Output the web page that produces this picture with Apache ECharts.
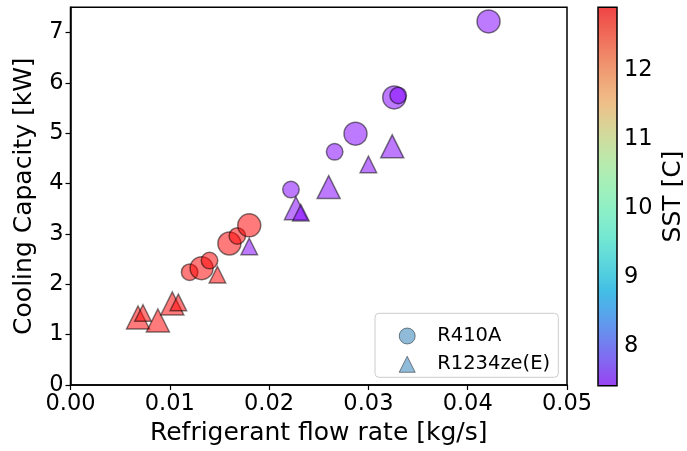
<!DOCTYPE html>
<html>
<head>
<meta charset="utf-8">
<script src="https://cdn.jsdelivr.net/npm/echarts@6/dist/echarts.min.js"></script>
<style>
  html, body { margin: 0; padding: 0; background: #fff; }
  #chart { width: 687px; height: 451px; }
</style>
</head>
<body>
<div id="chart"></div>
<script>
// Refrigerant flow rate [kg/s], cooling capacity [kW], saturated suction temperature [C]
const r410aFlow = [0.0120, 0.0132, 0.0140, 0.0160, 0.0168, 0.0180, 0.0222, 0.0266, 0.0287, 0.0326, 0.0330, 0.0421];
const r410aCapacity = [2.24, 2.32, 2.47, 2.81, 2.96, 3.17, 3.88, 4.63, 4.99, 5.71, 5.75, 7.22];
const r410aSST = [12.91, 12.91, 12.91, 12.91, 12.91, 12.91, 7.43, 7.43, 7.43, 7.43, 7.43, 7.43];
const r410aMarker = ['small', 'big', 'small', 'big', 'small', 'big', 'small', 'small', 'big', 'big', 'small', 'big'];

const r1234zeFlow = [0.0068, 0.0073, 0.0088, 0.01025, 0.01086, 0.0148, 0.0180, 0.0227, 0.0232, 0.0260, 0.0300, 0.0324];
const r1234zeCapacity = [1.34, 1.43, 1.28, 1.62, 1.64, 2.19, 2.75, 3.51, 3.42, 3.93, 4.38, 4.74];
const r1234zeSST = [12.91, 12.91, 12.91, 12.91, 12.91, 12.91, 7.43, 7.43, 7.43, 7.43, 7.43, 7.43];
const r1234zeMarker = ['big', 'small', 'big', 'big', 'small', 'small', 'small', 'big', 'small', 'big', 'small', 'big'];

const xTicks = [0, 0.01, 0.02, 0.03, 0.04, 0.05];
const yTicks = [0, 1, 2, 3, 4, 5, 6, 7];
const sstTicks = [8, 9, 10, 11, 12];

// marker diameters in px
const markerDiameter = { big: 23, small: 16.5 };

const FONT = 'DejaVu Sans';
const TICK_FONT = 22.5;
const TITLE_FONT = 25;
const sstMin = Math.min(...r410aSST, ...r1234zeSST);
const sstMax = Math.max(...r410aSST, ...r1234zeSST);

// matplotlib "rainbow" colormap
function rainbow(t, a) {
  const r = Math.min(1, Math.abs(2 * t - 0.5));
  const g = Math.sin(Math.PI * t);
  const b = Math.cos(Math.PI * t / 2);
  return `rgba(${Math.round(r * 255)},${Math.round(g * 255)},${Math.round(b * 255)},${a})`;
}
function rainbowStops(a) {
  const out = [];
  for (let i = 0; i <= 20; i++) out.push(rainbow(i / 20, a));
  return out;
}

function build(flow, cap, sst, marker) {
  return flow.map((f, i) => ({
    value: [f, cap[i], sst[i]],
    symbolSize: markerDiameter[marker[i]]
  }));
}

const plot = { left: 70.5, top: 7.3, right: 567, bottom: 385.7 };
const cbar = { left: 598, width: 19 };
const legendSwatch = { color: 'rgba(31,119,180,0.5)', borderColor: 'rgba(0,0,0,0.45)', borderWidth: 1 };

const chart = echarts.init(document.getElementById('chart'));
chart.setOption({
  animation: false,
  textStyle: { fontFamily: FONT },
  grid: [
    { left: plot.left, top: plot.top, width: plot.right - plot.left, height: plot.bottom - plot.top,
      show: true, borderColor: '#000', borderWidth: 1.5, backgroundColor: 'transparent' },
    { left: cbar.left, top: plot.top, width: cbar.width, height: plot.bottom - plot.top, show: false }
  ],
  xAxis: [
    {
      gridIndex: 0, type: 'value', min: 0, max: 0.05, interval: 0.01,
      name: 'Refrigerant flow rate [kg/s]', nameLocation: 'middle', nameGap: 36,
      nameTextStyle: { fontSize: TITLE_FONT, color: '#000', fontFamily: FONT },
      axisLine: { show: true, lineStyle: { color: '#000', width: 1.5 } },
      axisTick: { show: true, length: 5, lineStyle: { color: '#000', width: 1.2 }, customValues: xTicks },
      axisLabel: { fontSize: TICK_FONT, color: '#000', margin: 8, fontFamily: FONT, customValues: xTicks,
                   formatter: v => v.toFixed(2) },
      splitLine: { show: false }
    },
    { gridIndex: 1, type: 'value', show: false, min: 0, max: 1 }
  ],
  yAxis: [
    {
      gridIndex: 0, type: 'value', min: 0, max: 7.5,
      name: 'Cooling Capacity [kW]', nameLocation: 'middle', nameGap: 34, nameRotate: 90,
      nameTextStyle: { fontSize: TITLE_FONT, color: '#000', fontFamily: FONT },
      axisLine: { show: true, lineStyle: { color: '#000', width: 1.5 } },
      axisTick: { show: true, length: 5, lineStyle: { color: '#000', width: 1.2 }, customValues: yTicks },
      axisLabel: { fontSize: TICK_FONT, color: '#000', margin: 7, fontFamily: FONT, customValues: yTicks },
      splitLine: { show: false }
    },
    {
      gridIndex: 1, type: 'value', position: 'right', min: sstMin, max: sstMax,
      name: 'SST [C]', nameLocation: 'middle', nameGap: 50, nameRotate: 90,
      nameTextStyle: { fontSize: TITLE_FONT, color: '#000', fontFamily: FONT },
      axisLine: { show: false },
      axisTick: { show: true, length: 5, lineStyle: { color: '#000', width: 1.2 }, customValues: sstTicks },
      axisLabel: { fontSize: TICK_FONT, color: '#000', margin: 13, fontFamily: FONT, customValues: sstTicks },
      splitLine: { show: false }
    }
  ],
  visualMap: {
    type: 'continuous',
    seriesIndex: [0, 1],
    dimension: 2,
    min: sstMin, max: sstMax,
    calculable: false, hoverLink: false,
    text: null, showLabel: false,
    left: cbar.left, top: plot.top,
    itemWidth: cbar.width, itemHeight: plot.bottom - plot.top,
    padding: 0,
    inRange: { color: rainbowStops(0.52) },
    controller: { inRange: { color: rainbowStops(0.68) } }
  },
  legend: {
    orient: 'vertical',
    left: 393.7, top: 320,
    itemWidth: 16, itemHeight: 16, itemGap: 6.3,
    textStyle: { fontSize: 19.5, color: '#000', fontFamily: FONT, lineHeight: 22, padding: [0, 0, 0, 17] },
    data: [
      { name: 'R410A', icon: 'circle', itemStyle: legendSwatch },
      { name: 'R1234ze(E)', icon: 'triangle', itemStyle: legendSwatch }
    ]
  },
  graphic: [
    { type: 'rect', z: 2, shape: { x: 375, y: 313.3, width: 183.3, height: 64, r: 4 },
      style: { fill: 'rgba(255,255,255,0.8)', stroke: '#cccccc', lineWidth: 1 } },
    { type: 'rect', z: 100, shape: { x: cbar.left, y: plot.top, width: cbar.width, height: plot.bottom - plot.top },
      style: { fill: 'none', stroke: '#000', lineWidth: 1.5 } }
  ],
  series: [
    {
      name: 'R410A', type: 'scatter', xAxisIndex: 0, yAxisIndex: 0,
      symbol: 'circle',
      itemStyle: { borderColor: 'rgba(0,0,0,0.5)', borderWidth: 1.5, opacity: 1 },
      emphasis: { disabled: true },
      data: build(r410aFlow, r410aCapacity, r410aSST, r410aMarker)
    },
    {
      name: 'R1234ze(E)', type: 'scatter', xAxisIndex: 0, yAxisIndex: 0,
      symbol: 'triangle',
      itemStyle: { borderColor: 'rgba(0,0,0,0.5)', borderWidth: 1.5, opacity: 1 },
      emphasis: { disabled: true },
      data: build(r1234zeFlow, r1234zeCapacity, r1234zeSST, r1234zeMarker)
    }
  ]
});
</script>
</body>
</html>
